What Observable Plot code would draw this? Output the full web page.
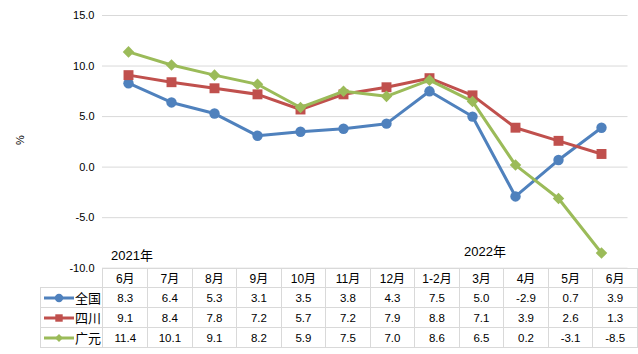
<!DOCTYPE html>
<html><head><meta charset="utf-8">
<script src="https://cdn.jsdelivr.net/npm/d3@7"></script>
<script src="https://cdn.jsdelivr.net/npm/@observablehq/plot@0.6"></script>
<style>
body{margin:0;background:#fff;font-family:"Liberation Sans","Noto Sans CJK SC",sans-serif;}
#wrap{position:relative;width:638px;height:354px;overflow:hidden;}
#chart svg{display:block;}
.ann{position:absolute;font-size:13px;color:#000;white-space:nowrap;}
table{position:absolute;border-collapse:collapse;font-size:11.5px;color:#000;}
td{border:1px solid #d9d9d9;text-align:center;padding:0;}
td.blank{border:none;}
</style></head>
<body><div id="wrap"><div id="chart"></div></div>
<script>
const months = ["6月","7月","8月","9月","10月","11月","12月","1-2月","3月","4月","5月","6月"];
const seriesNames = ["全国","四川","广元"];
const quanguo   = [8.3,6.4,5.3,3.1,3.5,3.8,4.3,7.5,5.0,-2.9,0.7,3.9];
const sichuan   = [9.1,8.4,7.8,7.2,5.7,7.2,7.9,8.8,7.1,3.9,2.6,1.3];
const guangyuan = [11.4,10.1,9.1,8.2,5.9,7.5,7.0,8.6,6.5,0.2,-3.1,-8.5];
const yTicks = [-10,-5,0,5,10,15];
const yearLabels = ["2021年","2022年"];

const colors = ["#4f81bd","#c0504d","#9bbb59"];
const symbols = ["circle","square","diamond2"];
const radii = [5.2,5.6,5.2];
const values = [quanguo, sichuan, guangyuan];

const data = [];
values.forEach((arr,s)=>arr.forEach((v,i)=>data.push({i, v, s: seriesNames[s]})));

const marks = [Plot.ruleY(yTicks,{stroke:"#d9d9d9",strokeWidth:1})];
seriesNames.forEach((name,s)=>{
  const d = data.filter(e=>e.s===name);
  marks.push(Plot.line(d,{x:"i",y:"v",stroke:colors[s],strokeWidth:3}));
  marks.push(Plot.dot(d,{x:"i",y:"v",fill:colors[s],stroke:"none",symbol:symbols[s],r:radii[s]}));
});

const plot = Plot.plot({
  width:638, height:354,
  marginLeft:102, marginRight:10.5, marginTop:15, marginBottom:86.3,
  style:{fontFamily:'"Liberation Sans","Noto Sans CJK SC",sans-serif',fontSize:"11px",color:"#000",background:"#fff"},
  x:{type:"point",domain:d3.range(months.length),padding:0.5,axis:null},
  y:{domain:[-10,15],ticks:yTicks,tickFormat:d=>d.toFixed(1),tickSize:0,tickPadding:8,label:null},
  marks
});
document.getElementById("chart").appendChild(plot);

const wrap = document.getElementById("wrap");
// % label
const pct = document.createElement("div");
pct.className="ann"; pct.textContent="%";
pct.style.fontSize="11px";
pct.style.left="15px"; pct.style.top="134px";
pct.style.transform="rotate(-90deg)";
wrap.appendChild(pct);
// year labels
[[111,245],[464,241]].forEach(([l,t],k)=>{
  const a=document.createElement("div");a.className="ann";a.textContent=yearLabels[k];
  a.style.left=l+"px";a.style.top=t+"px";wrap.appendChild(a);
});

// data table
const table = d3.select(wrap).append("table")
  .style("left","40px").style("top","267.5px");
const colW = 43.75;
const hdr = table.append("tr").style("height","19.5px");
hdr.append("td").attr("class","blank").style("width","62px");
months.forEach(m=>hdr.append("td").style("width",colW+"px").style("font-size","12px").text(m));
const rowH=["17.5px","17.5px","18px"];
values.forEach((arr,s)=>{
  const tr = table.append("tr").style("height",rowH[s]);
  const td = tr.append("td").style("text-align","left").style("white-space","nowrap");
  const sw = td.append("svg").attr("width",32).attr("height",12).style("vertical-align","middle").style("margin-left","2px");
  sw.append("line").attr("x1",1).attr("x2",31).attr("y1",6).attr("y2",6).attr("stroke",colors[s]).attr("stroke-width",3);
  sw.append("path").attr("transform","translate(16,6)").attr("d",d3.symbol(
    s===0?d3.symbolCircle:(s===1?d3.symbolSquare:d3.symbolDiamond2), s===2?40:55)()).attr("fill",colors[s]);
  td.append("span").style("font-size","13px").style("vertical-align","middle").text(seriesNames[s]);
  arr.forEach(v=>tr.append("td").text(v.toFixed(1)));
});
</script></body></html>
